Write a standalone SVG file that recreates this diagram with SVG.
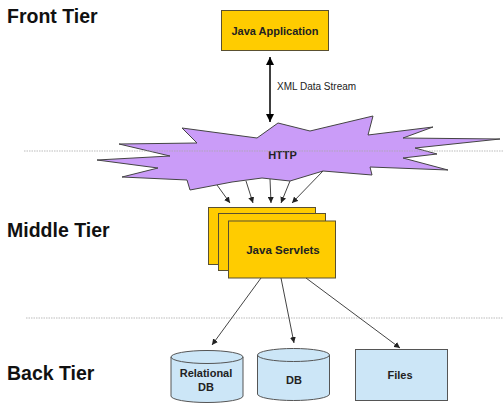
<svg xmlns="http://www.w3.org/2000/svg" width="503" height="404" viewBox="0 0 503 404">
<defs>
<style>
.tier{font-family:"Liberation Sans",Arial,sans-serif;font-weight:bold;font-size:19.5px;fill:#111}
.lbl{font-family:"Liberation Sans",Arial,sans-serif;font-weight:bold;font-size:11px;fill:#222;text-anchor:middle}
.note{font-family:"Liberation Sans",Arial,sans-serif;font-size:10px;fill:#222}
.yel{fill:#FFCC00;stroke:#5a5030;stroke-width:1}
.blue{fill:#CCE6F7;stroke:#555;stroke-width:1}
.sep{stroke:#aaa;stroke-width:1;stroke-dasharray:1.5 1;stroke-opacity:0.8}
.con{stroke:#444;stroke-width:1;fill:none;marker-end:url(#ah)}
</style>
<marker id="ah" viewBox="0 0 10 10" refX="10" refY="5" markerWidth="6" markerHeight="6" orient="auto" markerUnits="userSpaceOnUse"><path d="M0,0 L10,5 L0,10 z" fill="#222"/></marker>
<marker id="bh" viewBox="0 0 10 10" refX="10" refY="5" markerWidth="8" markerHeight="8" orient="auto-start-reverse" markerUnits="userSpaceOnUse"><path d="M0,0 L10,5 L0,10 z" fill="#000"/></marker>
</defs>
<rect width="503" height="404" fill="#fff"/>
<text class="tier" x="7" y="22.5">Front Tier</text>
<text class="tier" x="7" y="236.5">Middle Tier</text>
<text class="tier" x="7" y="380">Back Tier</text>
<g id="java-app">
<rect class="yel" x="221.5" y="10.5" width="107" height="40"/>
<text class="lbl" x="275" y="34.5">Java Application</text>
</g>
<g id="http">
<polygon points="278,123 310,131 373,116 368,135 433,127 403,138 500,139 415,148 437,154 403,158 448,170 370,167 372,175 323,171 290,181 262,178 232,182 190,190 187,180 122,177 158,168 97,160 170,156 119,144 197,143 182,128 257,138" fill="#CA9CF8" stroke="#444" stroke-width="1"/>
<text class="lbl" x="282.5" y="159">HTTP</text>
</g>
<line class="sep" x1="24" y1="151" x2="503" y2="151"/>
<line class="sep" x1="26" y1="318" x2="503" y2="318"/>
<g id="servlets">
<rect class="yel" x="208.5" y="207.5" width="107" height="57"/>
<rect class="yel" x="218.5" y="213.5" width="107" height="57"/>
<rect class="yel" x="228.5" y="221" width="107" height="57"/>
<text class="lbl" x="283" y="254" style="font-size:11.5px">Java Servlets</text>
</g>
<g id="relational-db">
<path class="blue" d="M171,357 L171,396 A36,6.5 0 0 0 243,396 L243,357 A36,6.5 0 0 0 171,357 A36,6.5 0 0 0 243,357"/>
<text class="lbl" x="206" y="377">Relational</text>
<text class="lbl" x="206" y="391">DB</text>
</g>
<g id="db">
<path class="blue" d="M257.5,355 L257.5,394 A36,6.5 0 0 0 329.5,394 L329.5,355 A36,6.5 0 0 0 257.5,355 A36,6.5 0 0 0 329.5,355"/>
<text class="lbl" x="294" y="384">DB</text>
</g>
<g id="files">
<rect class="blue" x="355.5" y="349.5" width="92" height="51"/>
<text class="lbl" x="400" y="379">Files</text>
</g>
<g id="connectors">
<line x1="270" y1="57" x2="270" y2="122" stroke="#000" stroke-width="1.5" marker-start="url(#bh)" marker-end="url(#bh)"/>
<text class="note" x="277" y="90">XML Data Stream</text>
<line class="con" x1="217" y1="185" x2="230" y2="203"/>
<line class="con" x1="246" y1="181" x2="253" y2="203"/>
<line class="con" x1="270" y1="179" x2="271" y2="203"/>
<line class="con" x1="290" y1="181" x2="281" y2="203"/>
<line class="con" x1="323" y1="171" x2="292" y2="203"/>
<line class="con" x1="261" y1="278" x2="212" y2="345"/>
<line class="con" x1="281" y1="278" x2="294" y2="343"/>
<line class="con" x1="306" y1="278" x2="400" y2="348"/>
</g>
</svg>
